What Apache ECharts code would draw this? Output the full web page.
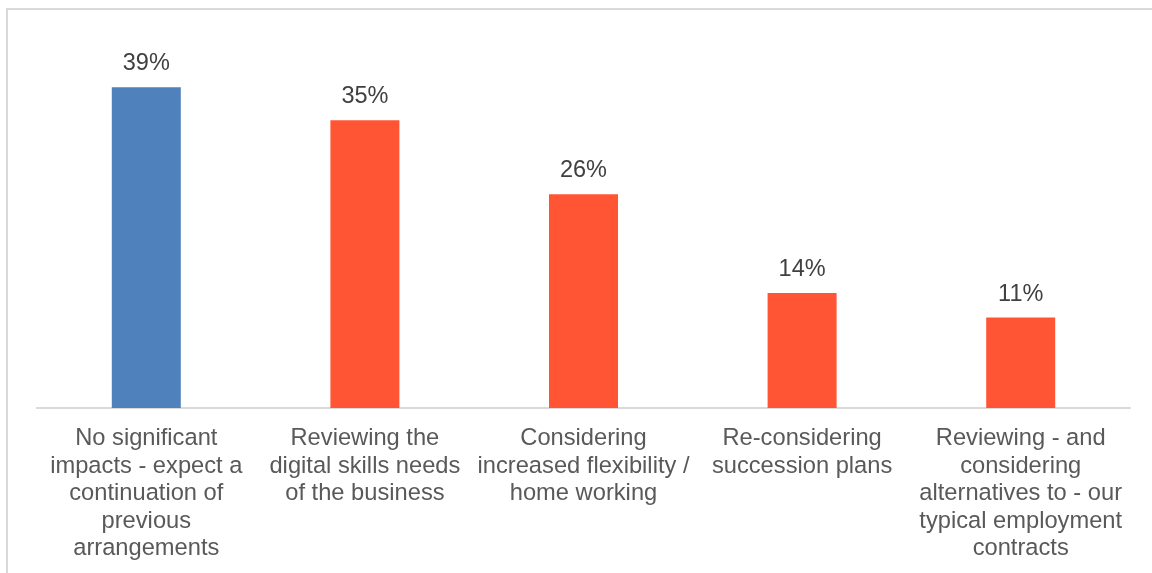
<!DOCTYPE html>
<html>
<head>
<meta charset="utf-8">
<script src="https://cdn.jsdelivr.net/npm/echarts@6/dist/echarts.min.js"></script>
<style>
  html, body { margin: 0; padding: 0; background: #ffffff; }
  #chart { width: 1152px; height: 573px; }
</style>
</head>
<body>
<div id="chart"></div>
<script>
// Impacts on workforce planning (share of respondents, %)
const categories = [
  'No significant impacts - expect a continuation of previous arrangements',
  'Reviewing the digital skills needs of the business',
  'Considering increased flexibility / home working',
  'Re-considering succession plans',
  'Reviewing - and considering alternatives to - our typical employment contracts'
];
const tickLabels = [
  'No significant\nimpacts - expect a\ncontinuation of\nprevious\narrangements',
  'Reviewing the\ndigital skills needs\nof the business',
  'Considering\nincreased flexibility /\nhome working',
  'Re-considering\nsuccession plans',
  'Reviewing - and\nconsidering\nalternatives to - our\ntypical employment\ncontracts'
];
const values = [39, 35, 26, 14, 11];

const BLUE = '#4F81BD';
const ORANGE = '#FF5535';
const FONT = '"Liberation Sans", Arial, sans-serif';

const chart = echarts.init(document.getElementById('chart'), null, { renderer: 'canvas' });

chart.setOption({
  backgroundColor: '#ffffff',
  animation: false,
  graphic: [{
    type: 'rect',
    silent: true,
    shape: { x: 7, y: 9, width: 1300, height: 700 },
    style: { fill: 'none', stroke: '#d9d9d9', lineWidth: 2 }
  }],
  grid: { left: 37, right: 22, top: 38, bottom: 165 },
  xAxis: {
    type: 'category',
    data: categories,
    axisLine: { show: true, lineStyle: { color: '#d9d9d9', width: 2 } },
    axisTick: { show: false },
    axisLabel: {
      interval: 0,
      margin: 17,
      color: '#595959',
      fontFamily: FONT,
      fontSize: 23.7,
      lineHeight: 27.5,
      align: 'center',
      formatter: (v, i) => tickLabels[i]
    }
  },
  yAxis: {
    type: 'value',
    min: 0,
    max: 45,
    show: false,
    splitLine: { show: false }
  },
  series: [{
    type: 'bar',
    barWidth: 69,
    data: values.map((v, i) => ({
      value: v,
      itemStyle: { color: i === 0 ? BLUE : ORANGE }
    })),
    label: {
      show: true,
      position: 'top',
      distance: 12,
      color: '#404040',
      fontFamily: FONT,
      fontSize: 23.5,
      lineHeight: 23,
      formatter: p => p.value + '%'
    }
  }]
});
</script>
</body>
</html>
